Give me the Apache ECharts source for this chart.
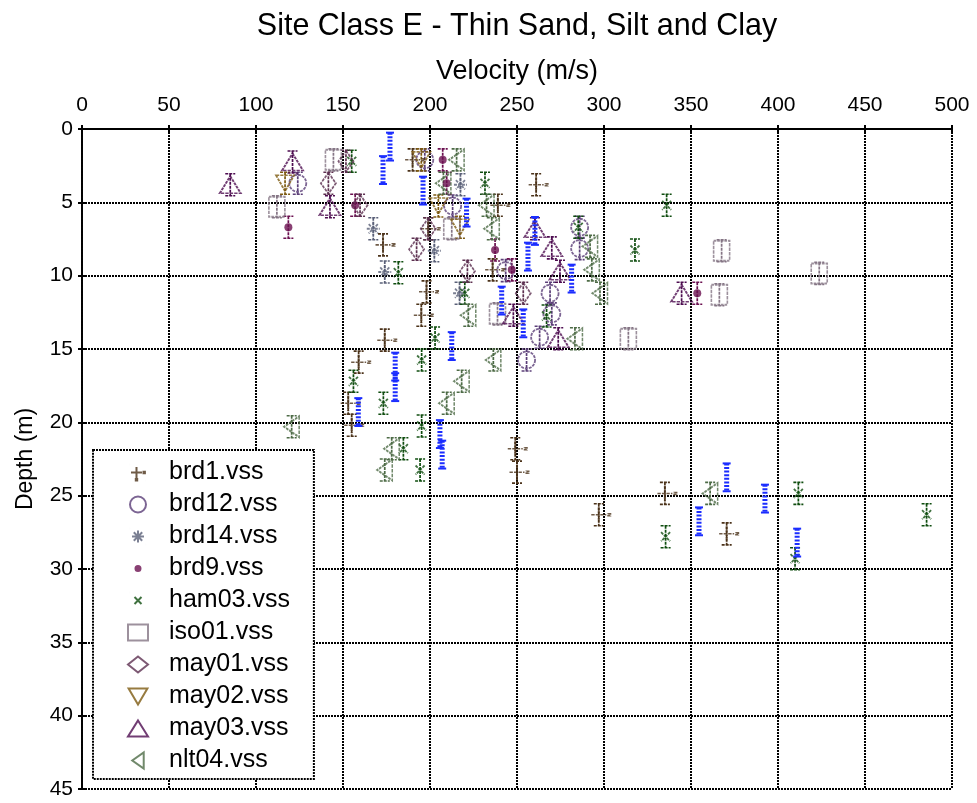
<!DOCTYPE html>
<html>
<head>
<meta charset="utf-8">
<script src="https://cdn.jsdelivr.net/npm/echarts@6/dist/echarts.min.js"></script>
<style>
  html, body { margin: 0; padding: 0; background: #fff; }
  #chart { width: 977px; height: 803px; }
</style>
</head>
<body>
<div id="chart"></div>
<script>
// Velocity (m/s) vs depth (m) picks, one list per survey file: [velocity, depth]
const brd1 = [[261,3.8],[239,5.2],[190,2.1],[173,7.9],[199,6.8],[198,11.1],[195,12.7],[236,9.6],[174,14.4],[159,15.9],[153,18.7],[155,20.2],[249,21.8],[250,23.4],[297,26.3],[335,24.85],[370.5,27.6]];
const brd12 = [[124,3.7],[213,5.25],[197,2.1],[286,6.7],[286,8.15],[243.5,9.65],[269,11.2],[270,12.6],[263,14.2],[255.5,15.75]];
const brd14 = [[167.4,6.8],[202.5,8.3],[217.5,3.8],[174,9.75],[217,11.2]];
const brd9 = [[118.6,6.7],[157,5.2],[207.3,2.1],[209.6,3.7],[237.4,8.25],[247,9.6],[353.6,11.2]];
const ham03 = [[155,2.2],[231.6,3.7],[285.2,6.7],[317.8,8.25],[336,5.2],[181.8,9.8],[202.9,14.25],[195.2,15.75],[173.2,18.7],[195.2,20.25],[156,17.2],[184.7,21.8],[194.3,23.25],[220,11.2],[267,12.75],[335.4,27.8],[411.7,24.85],[409.8,29.3],[485.4,26.3]];
const iso01 = [[144.5,2.1],[112,5.3],[212.5,6.8],[367.6,8.3],[366.3,11.3],[423.7,9.85],[238.8,12.6],[314,14.3]];
const may01 = [[141.6,3.7],[159.8,5.2],[151.7,2.2],[192.3,8.2],[221.5,9.7],[199,6.8],[253.6,11.2]];
const may02 = [[116.7,3.7],[195,2.1],[204.8,5.25],[217.2,6.7]];
const may03 = [[85.2,3.8],[121,2.25],[142.5,5.3],[260.3,6.8],[270,8.1],[274.7,9.7],[247.9,12.7],[273.7,14.3],[344.6,11.2]];
const nlt04 = [[207.7,3.7],[215.3,2.1],[232.5,5.2],[235.5,6.8],[292,8.0],[293,9.6],[297.7,11.2],[222,12.7],[283.3,14.3],[236.4,15.75],[218.2,17.2],[209.6,18.7],[120.5,20.3],[178,21.8],[174,23.25],[361,24.85]];
// Extra profile shown only as blue depth-range bars: [velocity, depth]
const blueBars = [[177,1.2],[173,2.8],[196,4.2],[221,5.7],[260.3,6.95],[256.3,8.7],[281.4,10.2],[241.2,11.7],[253.6,13.25],[212.5,14.8],[180,16.2],[180,17.6],[158.8,19.3],[205.7,20.8],[207,22.2],[370.5,23.75],[392.5,25.2],[354.6,26.75],[411,28.2]];

// Depth uncertainty (half-range, m)
const depthError = 0.75;
const blueBarHalf = 0.95;

// Axis ranges and steps
const velocityRange = [0, 500];
const velocityStep = 50;
const depthRange = [0, 45];
const depthStep = 5;

const FONT = 'Liberation Sans, Arial, sans-serif';

// Legend icons that keep a small glyph inside a 16x16 box (tiny corner moves fix the box size)
const BOX = 'M0,0L0.01,0M16,16L16.01,16';

const surveys = [
  { name: 'brd1.vss',  data: brd1,  color: '#4b3219', symbol: 'path://M0,7.5L15,7.5M7.5,0L7.5,15M17,6.5L19,6.5L19,8.5L17,8.5Z', size: [19, 15], offset: [2, 0], fill: false,
    icon: 'path://' + BOX + 'M1,8L12,8M6.5,2.5L6.5,13.5M13.5,7.3L14.9,7.3L14.9,8.7L13.5,8.7ZM5.8,14.6L7.2,14.6L7.2,16L5.8,16Z' },
  { name: 'brd12.vss', data: brd12, color: '#5b3f78', symbol: 'circle', size: 17, fill: false },
  { name: 'brd14.vss', data: brd14, color: '#5a6078', symbol: 'path://M5,0L5,10M0,5L10,5M1.5,1.5L8.5,8.5M8.5,1.5L1.5,8.5', size: 13, fill: false,
    icon: 'path://' + BOX + 'M8,2L8,14M2,8L14,8M3.8,3.8L12.2,12.2M12.2,3.8L3.8,12.2' },
  { name: 'brd9.vss',  data: brd9,  color: '#6b1050', symbol: 'circle', size: 8, fill: true,
    icon: 'path://' + BOX + 'M4.5,8a3.5,3.5 0 1,0 7,0a3.5,3.5 0 1,0 -7,0Z' },
  { name: 'ham03.vss', data: ham03, color: '#0f4d0f', symbol: 'path://M0,0L10,10M10,0L0,10', size: 9, fill: false,
    icon: 'path://' + BOX + 'M4.5,4.5L11.5,11.5M11.5,4.5L4.5,11.5' },
  { name: 'iso01.vss', data: iso01, color: '#857585', symbol: 'rect', size: [16, 20], fill: false },
  { name: 'may01.vss', data: may01, color: '#5d3050', symbol: 'diamond', size: [15, 21], fill: false },
  { name: 'may02.vss', data: may02, color: '#7d5a10', symbol: 'path://M0,0L20,0L10,17Z', size: [18, 16], fill: false },
  { name: 'may03.vss', data: may03, color: '#4d0c50', symbol: 'triangle', size: [21, 17], fill: false },
  { name: 'nlt04.vss', data: nlt04, color: '#4d6b46', symbol: 'path://M15,0L15,21L0,10.5Z', size: [15, 21], fill: false }
];

function errorBarSeries(s) {
  return {
    type: 'custom',
    name: s.name + ' range',
    silent: true,
    z: 3,
    data: s.data,
    renderItem: function (params, api) {
      const v = api.value(0), d = api.value(1);
      const top = api.coord([v, d - depthError]);
      const bot = api.coord([v, d + depthError]);
      const style = { stroke: s.color, lineWidth: 1.7, lineDash: [3, 1] };
      return {
        type: 'group',
        children: [
          { type: 'line', shape: { x1: top[0], y1: top[1], x2: bot[0], y2: bot[1] }, style: style },
          { type: 'line', shape: { x1: top[0] - 5, y1: top[1], x2: top[0] + 5, y2: top[1] }, style: style },
          { type: 'line', shape: { x1: bot[0] - 5, y1: bot[1], x2: bot[0] + 5, y2: bot[1] }, style: style }
        ]
      };
    }
  };
}

function markerSeries(s) {
  return {
    type: 'scatter',
    name: s.name,
    z: 4,
    data: s.data,
    symbol: s.symbol,
    symbolSize: s.size,
    symbolOffset: s.offset || [0, 0],
    itemStyle: s.fill
      ? { color: s.color, borderWidth: 0 }
      : { color: 'rgba(0,0,0,0)', borderColor: s.color, borderWidth: 1.8, borderType: [3, 1] },
    emphasis: { disabled: true }
  };
}

const blueBarSeries = {
  type: 'custom',
  name: 'profile bars',
  silent: true,
  z: 5,
  data: blueBars,
  renderItem: function (params, api) {
    const v = api.value(0), d = api.value(1);
    const top = api.coord([v, d - blueBarHalf]);
    const bot = api.coord([v, d + blueBarHalf]);
    const c = '#1b2dff';
    return {
      type: 'group',
      children: [
        { type: 'line', shape: { x1: top[0], y1: top[1], x2: bot[0], y2: bot[1] }, style: { stroke: c, lineWidth: 5, lineDash: [2, 1.6] } },
        { type: 'line', shape: { x1: top[0] - 4, y1: top[1], x2: top[0] + 4, y2: top[1] }, style: { stroke: c, lineWidth: 2 } },
        { type: 'line', shape: { x1: bot[0] - 4, y1: bot[1], x2: bot[0] + 4, y2: bot[1] }, style: { stroke: c, lineWidth: 2 } }
      ]
    };
  }
};

const dottedLine = { color: '#000', width: 2, type: [2, 1] };

const chart = echarts.init(document.getElementById('chart'), null, { renderer: 'canvas' });
chart.setOption({
  animation: false,
  backgroundColor: '#fff',
  title: {
    text: 'Site Class E - Thin Sand, Silt and Clay',
    left: 517,
    textAlign: 'center',
    top: 11,
    padding: 0,
    textStyle: { fontFamily: FONT, fontSize: 30.5, fontWeight: 'normal', color: '#000' }
  },
  grid: { left: 82, right: 25, top: 129, bottom: 14 },
  xAxis: [
    {
      type: 'value', position: 'top',
      min: velocityRange[0], max: velocityRange[1], interval: velocityStep,
      name: 'Velocity (m/s)', nameLocation: 'middle', nameGap: 44,
      nameTextStyle: { fontFamily: FONT, fontSize: 27, color: '#000' },
      axisLine: { show: true, lineStyle: dottedLine },
      axisTick: { show: true, inside: true, length: 4, lineStyle: { color: '#000', width: 2 } },
      axisLabel: { fontFamily: FONT, fontSize: 21, color: '#000', margin: 13 },
      splitLine: { show: true, lineStyle: dottedLine }
    },
    {
      type: 'value', position: 'bottom',
      min: velocityRange[0], max: velocityRange[1], interval: velocityStep,
      axisLine: { show: true, lineStyle: dottedLine },
      axisTick: { show: true, inside: true, length: 4, lineStyle: { color: '#000', width: 2 } },
      axisLabel: { show: false },
      splitLine: { show: false }
    }
  ],
  yAxis: [
    {
      type: 'value', inverse: true,
      min: depthRange[0], max: depthRange[1], interval: depthStep,
      name: 'Depth (m)', nameLocation: 'middle', nameGap: 45,
      nameTextStyle: { fontFamily: FONT, fontSize: 23, color: '#000' },
      axisLine: { show: true, lineStyle: dottedLine },
      axisTick: { show: true, inside: true, length: 4, lineStyle: { color: '#000', width: 2 } },
      axisLabel: { fontFamily: FONT, fontSize: 21, color: '#000', margin: 9 },
      splitLine: { show: true, lineStyle: dottedLine }
    },
    {
      type: 'value', inverse: true, position: 'right',
      min: depthRange[0], max: depthRange[1], interval: depthStep,
      axisLine: { show: true, lineStyle: dottedLine },
      axisTick: { show: true, inside: true, length: 4, lineStyle: { color: '#000', width: 2 } },
      axisLabel: { show: false },
      splitLine: { show: false }
    }
  ],
  legend: {
    orient: 'vertical',
    left: 93, top: 450,
    padding: [10, 24, 6, 34],
    itemWidth: 20, itemHeight: 16, itemGap: 7,
    backgroundColor: '#fff',
    borderColor: '#000', borderWidth: 2, borderType: [2, 1],
    selectedMode: false,
    textStyle: { fontFamily: FONT, fontSize: 25, color: '#000', lineHeight: 24, padding: [0, 0, 0, 16] },
    data: surveys.map(s => s.icon ? { name: s.name, icon: s.icon } : s.name)
  },
  series: [].concat(
    surveys.map(errorBarSeries),
    [blueBarSeries],
    surveys.map(markerSeries)
  )
});
</script>
</body>
</html>
